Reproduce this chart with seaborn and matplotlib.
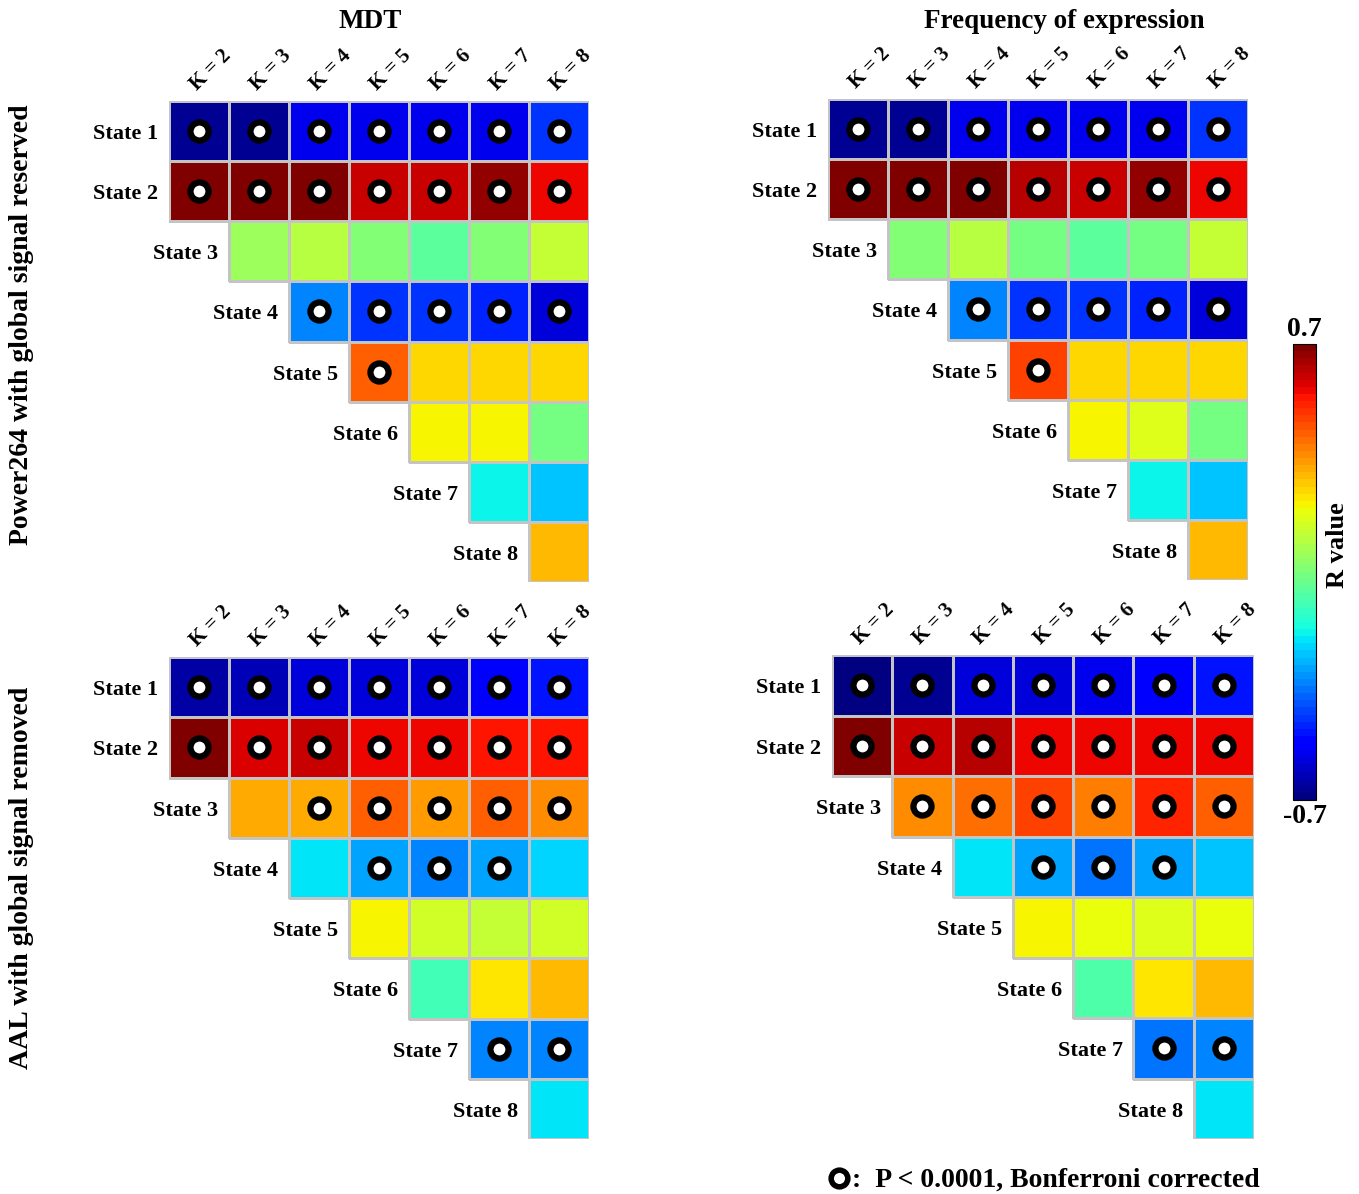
import numpy as np
import pandas as pd
import matplotlib.pyplot as plt
import seaborn as sns
from matplotlib.lines import Line2D
from matplotlib.colors import to_rgba

plt.rcParams['font.family'] = ['Liberation Serif', 'DejaVu Serif']
plt.rcParams['font.weight'] = 'bold'

n = np.nan
k_labels = ["K = 2", "K = 3", "K = 4", "K = 5", "K = 6", "K = 7", "K = 8"]
states = ["State 1", "State 2", "State 3", "State 4",
          "State 5", "State 6", "State 7", "State 8"]

# R values (rows = states, cols = K)
mdt_power = [
    [-0.66, -0.67, -0.56, -0.55, -0.55, -0.55, -0.44],
    [0.68, 0.70, 0.70, 0.60, 0.60, 0.66, 0.55],
    [n, 0.06, 0.10, 0.00, -0.06, 0.00, 0.13],
    [n, n, -0.35, -0.45, -0.45, -0.47, -0.57],
    [n, n, n, 0.43, 0.25, 0.25, 0.25],
    [n, n, n, n, 0.20, 0.20, -0.01],
    [n, n, n, n, n, -0.18, -0.26],
    [n, n, n, n, n, n, 0.29],
]
freq_power = [
    [-0.66, -0.67, -0.56, -0.55, -0.55, -0.56, -0.44],
    [0.68, 0.69, 0.70, 0.62, 0.61, 0.66, 0.55],
    [n, 0.00, 0.10, -0.01, -0.05, -0.02, 0.12],
    [n, n, -0.35, -0.45, -0.44, -0.47, -0.57],
    [n, n, n, 0.46, 0.25, 0.25, 0.25],
    [n, n, n, n, 0.21, 0.17, -0.01],
    [n, n, n, n, n, -0.19, -0.26],
    [n, n, n, n, n, n, 0.29],
]
mdt_aal = [
    [-0.64, -0.62, -0.57, -0.57, -0.57, -0.54, -0.49],
    [0.68, 0.58, 0.60, 0.56, 0.55, 0.54, 0.53],
    [n, 0.32, 0.32, 0.42, 0.35, 0.43, 0.37],
    [n, n, -0.20, -0.29, -0.35, -0.29, -0.24],
    [n, n, n, 0.20, 0.14, 0.12, 0.14],
    [n, n, n, n, -0.10, 0.24, 0.29],
    [n, n, n, n, n, -0.33, -0.35],
    [n, n, n, n, n, n, -0.20],
]
freq_aal = [
    [-0.70, -0.66, -0.58, -0.59, -0.56, -0.54, -0.49],
    [0.70, 0.60, 0.62, 0.56, 0.55, 0.55, 0.55],
    [n, 0.37, 0.41, 0.46, 0.38, 0.52, 0.43],
    [n, n, -0.21, -0.30, -0.37, -0.30, -0.26],
    [n, n, n, 0.21, 0.19, 0.16, 0.19],
    [n, n, n, n, -0.08, 0.24, 0.29],
    [n, n, n, n, n, -0.36, -0.35],
    [n, n, n, n, n, n, -0.20],
]

# significance (P < 0.0001, Bonferroni corrected)
sig_power = [
    [1, 1, 1, 1, 1, 1, 1],
    [1, 1, 1, 1, 1, 1, 1],
    [0, 0, 0, 0, 0, 0, 0],
    [0, 0, 1, 1, 1, 1, 1],
    [0, 0, 0, 1, 0, 0, 0],
    [0, 0, 0, 0, 0, 0, 0],
    [0, 0, 0, 0, 0, 0, 0],
    [0, 0, 0, 0, 0, 0, 0],
]
sig_mdt_aal = [
    [1, 1, 1, 1, 1, 1, 1],
    [1, 1, 1, 1, 1, 1, 1],
    [0, 0, 1, 1, 1, 1, 1],
    [0, 0, 0, 1, 1, 1, 0],
    [0, 0, 0, 0, 0, 0, 0],
    [0, 0, 0, 0, 0, 0, 0],
    [0, 0, 0, 0, 0, 1, 1],
    [0, 0, 0, 0, 0, 0, 0],
]
sig_freq_aal = [
    [1, 1, 1, 1, 1, 1, 1],
    [1, 1, 1, 1, 1, 1, 1],
    [0, 1, 1, 1, 1, 1, 1],
    [0, 0, 0, 1, 1, 1, 0],
    [0, 0, 0, 0, 0, 0, 0],
    [0, 0, 0, 0, 0, 0, 0],
    [0, 0, 0, 0, 0, 1, 1],
    [0, 0, 0, 0, 0, 0, 0],
]

W, H = 1359, 1194
fig = plt.figure(figsize=(W / 100, H / 100), dpi=100)
cmap = plt.get_cmap('jet', 64)
grid_col = '#c4c4c4'


def px_rect(x0, y0, x1, y1):
    return [x0 / W, 1 - y1 / H, (x1 - x0) / W, (y1 - y0) / H]


panels = [
    (mdt_power, sig_power, px_rect(169, 101, 589, 582)),
    (freq_power, sig_power, px_rect(828, 99, 1248, 580)),
    (mdt_aal, sig_mdt_aal, px_rect(169, 657, 589, 1139)),
    (freq_aal, sig_freq_aal, px_rect(832, 655, 1254, 1139)),
]

for vals, sig, rect in panels:
    ax = fig.add_axes(rect)
    df = pd.DataFrame(vals, index=states, columns=k_labels)
    sns.heatmap(df, ax=ax, cmap=cmap, vmin=-0.7, vmax=0.7, cbar=False,
                mask=df.isna(), linewidths=0.8, linecolor=grid_col)
    # no cell borders where there is no value
    mesh = ax.collections[0]
    edge = np.tile(to_rgba(grid_col), (df.size, 1))
    edge[df.isna().values.ravel()] = (0, 0, 0, 0)
    mesh.set_edgecolors(edge)
    ax.set_xticks([])
    ax.set_yticks([])
    ax.set_xlabel('')
    ax.set_ylabel('')
    sig_arr = np.array(sig)
    rr, cc = np.nonzero(sig_arr)
    ax.scatter(cc + 0.5, rr + 0.5, s=170, marker='o', facecolor='white',
               edgecolor='black', linewidth=4.5, zorder=5)
    for i, st in enumerate(states):
        c0 = max(0, i - 1)
        ax.text(c0 - 0.18, i + 0.55, st, ha='right', va='center',
                fontsize=16, fontweight='bold')
    for j, kl in enumerate(k_labels):
        ax.text(j + 0.52, -0.1, kl, rotation=45, ha='left', va='bottom',
                rotation_mode='anchor', fontsize=15, fontweight='bold')
    ax.set_xlim(0, 7)
    ax.set_ylim(8, 0)

# colorbar
cax = fig.add_axes(px_rect(1293, 344, 1316, 800))
sm = plt.cm.ScalarMappable(cmap=cmap, norm=plt.Normalize(-0.7, 0.7))
cb = fig.colorbar(sm, cax=cax)
cb.set_ticks([])
cb.outline.set_linewidth(0.8)
cax.text(0.5, 1.005, '0.7', transform=cax.transAxes, ha='center',
         va='bottom', fontsize=20, fontweight='bold')
cax.text(0.5, -0.008, '-0.7', transform=cax.transAxes, ha='center',
         va='top', fontsize=20, fontweight='bold')
fig.text(1338 / W, 1 - 545 / H, 'R value', rotation=90, ha='center',
         va='center', fontsize=19, fontweight='bold')

# titles
fig.text(370 / W, 1 - 21 / H, 'MDT', ha='center', va='center',
         fontsize=19.5, fontweight='bold')
fig.text(1064 / W, 1 - 21 / H, 'Frequency of expression', ha='center',
         va='center', fontsize=19.5, fontweight='bold')
fig.text(22 / W, 1 - 325 / H, 'Power264 with global signal reserved',
         rotation=90, ha='center', va='center', fontsize=20,
         fontweight='bold')
fig.text(22 / W, 1 - 878 / H, 'AAL with global signal removed',
         rotation=90, ha='center', va='center', fontsize=20,
         fontweight='bold')

# footnote
fig.add_artist(Line2D([839 / W], [1 - 1178 / H], marker='o', markersize=12,
                      markerfacecolor='white', markeredgecolor='black',
                      markeredgewidth=4, transform=fig.transFigure))
fig.text(852 / W, 1 - 1180 / H, ':  P < 0.0001, Bonferroni corrected',
         ha='left', va='center', fontsize=20, fontweight='bold')

fig.savefig('out.png', dpi=100)
